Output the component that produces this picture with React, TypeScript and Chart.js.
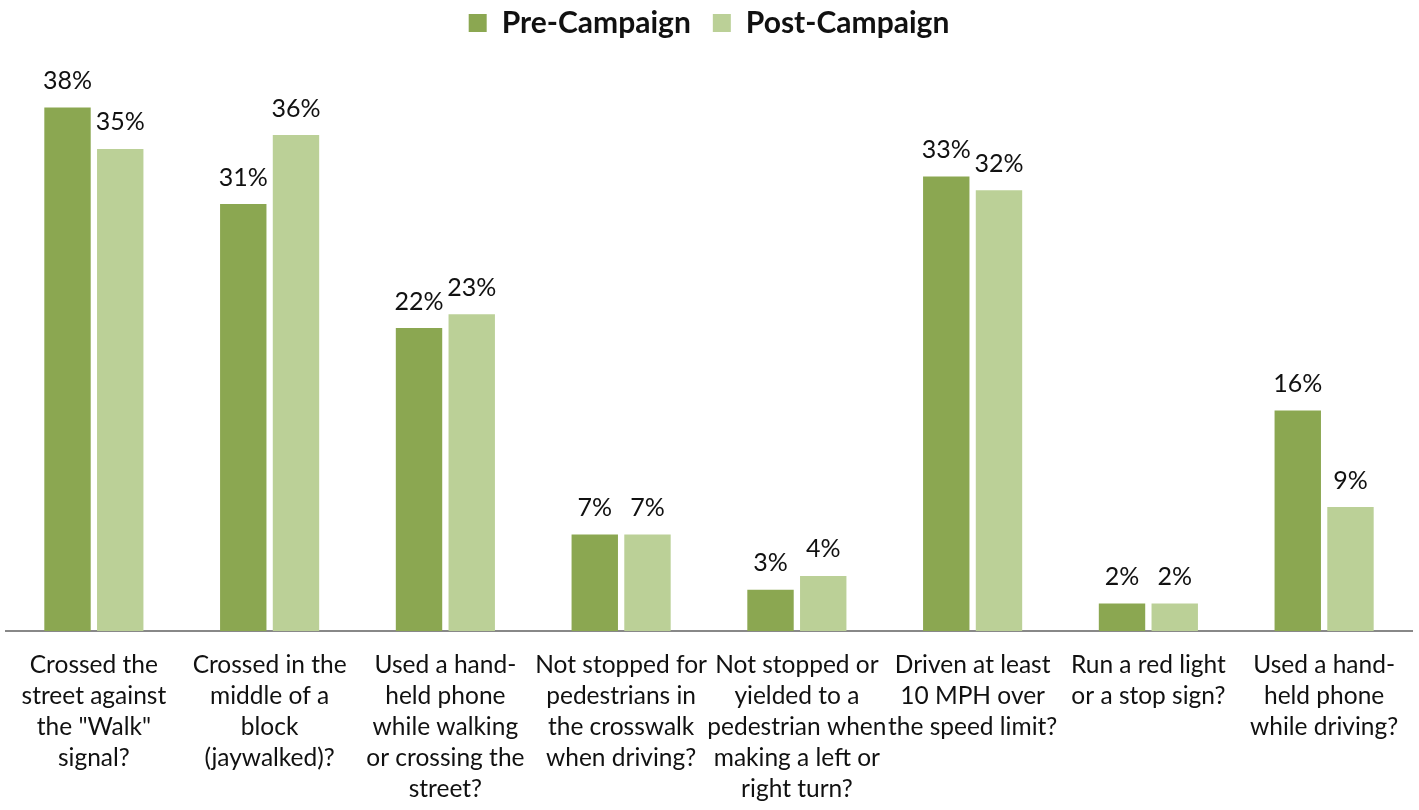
import React, { useEffect, useRef } from "react";
import { Chart, registerables } from "chart.js";

Chart.register(...registerables);

const categories: string[][] = [
  ["Crossed the", "street against", "the \"Walk\"", "signal?"],
  ["Crossed in the", "middle of a", "block", "(jaywalked)?"],
  ["Used a hand-", "held phone", "while walking", "or crossing the", "street?"],
  ["Not stopped for", "pedestrians in", "the crosswalk", "when driving?"],
  ["Not stopped or", "yielded to a", "pedestrian when", "making a left or", "right turn?"],
  ["Driven at least", "10 MPH over", "the speed limit?"],
  ["Run a red light", "or a stop sign?"],
  ["Used a hand-", "held phone", "while driving?"],
];

const preCampaign: number[] = [38, 31, 22, 7, 3, 33, 2, 16];
const postCampaign: number[] = [35, 36, 23, 7, 4, 32, 2, 9];

const seriesNames: string[] = ["Pre-Campaign", "Post-Campaign"];
const FONT = "Lato, 'Open Sans', sans-serif";

const dataLabelPlugin = {
  id: "dataLabels",
  afterDatasetsDraw(chart: any) {
    const ctx = chart.ctx;
    ctx.save();
    ctx.font = `25px ${FONT}`;
    ctx.fillStyle = "#111";
    ctx.textAlign = "center";
    ctx.textBaseline = "bottom";
    chart.data.datasets.forEach((ds: any, i: number) => {
      const meta = chart.getDatasetMeta(i);
      meta.data.forEach((bar: any, j: number) => {
        ctx.fillText(`${ds.data[j]}%`, bar.x, bar.y - 14);
      });
    });
    ctx.restore();
  },
};

const legendSpacer = {
  id: "legendSpacer",
  afterInit(chart: any) {
    const legend = chart.legend;
    if (!legend) return;
    const origFit = legend.fit;
    legend.fit = function () {
      origFit.call(this);
      this.height += 32;
    };
  },
};

export default function App() {
  const ref = useRef<HTMLCanvasElement>(null);
  useEffect(() => {
    if (!ref.current) return;
    const chart = new Chart(ref.current, {
      type: "bar",
      data: {
        labels: categories,
        datasets: [
          {
            label: seriesNames[0],
            data: preCampaign,
            backgroundColor: "#8BA751",
            barPercentage: 0.88,
            categoryPercentage: 0.6,
          },
          {
            label: seriesNames[1],
            data: postCampaign,
            backgroundColor: "#BBD097",
            barPercentage: 0.88,
            categoryPercentage: 0.6,
          },
        ],
      },
      options: {
        animation: false,
        responsive: true,
        maintainAspectRatio: false,
        layout: { padding: { left: 6, right: 7, top: -14, bottom: -6 } },
        plugins: {
          legend: {
            display: true,
            position: "top",
            align: "center",
            labels: {
              boxWidth: 18,
              boxHeight: 18,
              padding: 22,
              color: "#111",
              font: { family: FONT, size: 30, weight: "bold" },
            },
          },
          tooltip: { enabled: false },
        },
        scales: {
          x: {
            grid: { display: false },
            border: { display: true, color: "#888", width: 2 },
            ticks: {
              color: "#111",
              font: { family: FONT, size: 24.5, lineHeight: 1.265 },
              padding: 11,
              maxRotation: 0,
              autoSkip: false,
            },
          },
          y: {
            display: false,
            min: 0,
            max: 40,
          },
        },
      },
      plugins: [dataLabelPlugin, legendSpacer],
    });
    return () => chart.destroy();
  }, []);
  return (
    <div style={{ position: "fixed", left: 0, top: 0, width: 1419, height: 810, background: "#fff" }}>
      <canvas ref={ref} />
    </div>
  );
}
